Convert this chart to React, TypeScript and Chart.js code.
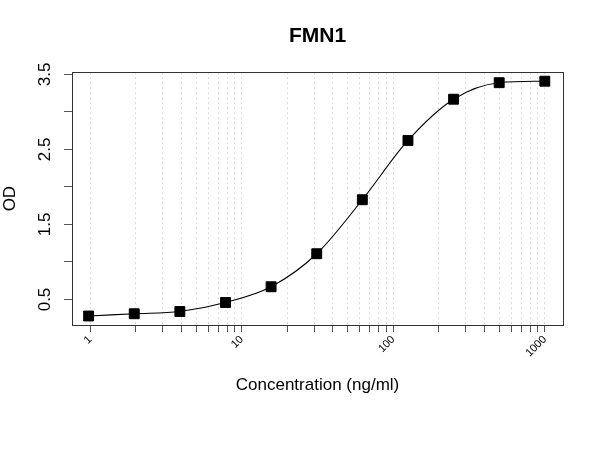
import React, { useEffect, useRef } from "react";
import { Chart, registerables } from "chart.js";

Chart.register(...registerables);

// Data
const concentrations = [0.9765625, 1.953125, 3.90625, 7.8125, 15.625, 31.25, 62.5, 125, 250, 500, 1000];
const odValues = [0.28, 0.31, 0.34, 0.46, 0.67, 1.11, 1.83, 2.62, 3.17, 3.39, 3.41];

// Tick values
const xGridTicks = [
  1, 2, 3, 4, 5, 6, 7, 8, 9,
  10, 20, 30, 40, 50, 60, 70, 80, 90,
  100, 200, 300, 400, 500, 600, 700, 800, 900,
  1000,
];
const xLabelTicks = [1, 10, 100, 1000];
const yTicks = [0.5, 1, 1.5, 2, 2.5, 3, 3.5];
const yLabelTicks = [0.5, 1.5, 2.5, 3.5];

const chartTitle = "FMN1";
const xTitle = "Concentration (ng/ml)";
const yTitle = "OD";

const FONT = "'Liberation Sans', Arial, Helvetica, sans-serif";

const framePlugin = {
  id: "frame",
  beforeDatasetsDraw(chart: any) {
    const { ctx, chartArea } = chart;
    const { left, top, right, bottom } = chartArea;
    ctx.save();
    ctx.strokeStyle = "#333333";
    ctx.lineWidth = 1;
    ctx.setLineDash([]);
    ctx.strokeRect(Math.round(left) + 0.5, Math.round(top) + 0.5, Math.round(right - left), Math.round(bottom - top));
    ctx.restore();
  },
};

export default function App() {
  const canvasRef = useRef<HTMLCanvasElement | null>(null);

  useEffect(() => {
    if (!canvasRef.current) return;
    const points = concentrations.map((c, i) => ({ x: c, y: odValues[i] }));
    const chart = new Chart(canvasRef.current, {
      type: "scatter",
      data: {
        datasets: [
          {
            data: points,
            showLine: true,
            borderColor: "#000000",
            borderWidth: 1.1,
            cubicInterpolationMode: "monotone",
            pointStyle: "rect",
            pointRadius: 7,
            pointHoverRadius: 7,
            pointBackgroundColor: "#000000",
            pointBorderColor: "#000000",
            pointBorderWidth: 1,
          } as any,
        ],
      },
      options: {
        responsive: false,
        animation: false,
        events: [],
        layout: { padding: { left: 0, top: 0, right: 37, bottom: 0 } },
        plugins: {
          legend: { display: false },
          tooltip: { enabled: false },
          title: {
            display: true,
            text: chartTitle,
            fullSize: false,
            color: "#000000",
            font: { family: FONT, size: 21, weight: "bold", lineHeight: 1.2 },
            padding: { top: 24, bottom: 23 },
          },
        },
        scales: {
          x: {
            type: "logarithmic",
            min: Math.pow(10, -0.12),
            max: Math.pow(10, 3.12),
            afterBuildTicks: (scale: any) => {
              scale.ticks = xGridTicks.map((v) => ({ value: v }));
            },
            afterFit: (scale: any) => {
              scale.height = 125;
            },
            ticks: {
              autoSkip: false,
              minRotation: 45,
              maxRotation: 45,
              padding: 1,
              color: "#000000",
              font: { family: FONT, size: 11 },
              callback: (value: any) => (xLabelTicks.includes(Number(value)) ? String(value) : ""),
            },
            grid: {
              display: true,
              drawOnChartArea: true,
              drawTicks: true,
              tickLength: 7,
              color: "#dadada",
              lineWidth: 1,
              tickColor: "#555555",
              tickWidth: 1,
              tickBorderDash: [],
            },
            border: { display: false, dash: [2, 3] },
            title: {
              display: true,
              text: xTitle,
              color: "#000000",
              font: { family: FONT, size: 17, lineHeight: 1.2 },
              padding: { top: 0, bottom: 54 },
            },
          },
          y: {
            type: "linear",
            min: 0.16,
            max: 3.53,
            afterBuildTicks: (scale: any) => {
              scale.ticks = yTicks.map((v) => ({ value: v }));
            },
            afterFit: (scale: any) => {
              scale.width = 72;
            },
            ticks: {
              autoSkip: false,
              minRotation: 90,
              maxRotation: 90,
              crossAlign: "center",
              padding: 7,
              color: "#000000",
              font: { family: FONT, size: 17 },
              callback: (value: any) => (yLabelTicks.includes(Number(value)) ? Number(value).toFixed(1) : ""),
            },
            grid: {
              display: true,
              drawOnChartArea: false,
              drawTicks: true,
              tickLength: 8,
              color: "#555555",
              tickColor: "#555555",
            },
            border: { display: false },
            title: {
              display: true,
              text: yTitle,
              color: "#000000",
              font: { family: FONT, size: 17, lineHeight: 1.2 },
              padding: { top: 0, bottom: 0 },
            },
          },
        },
      },
      plugins: [framePlugin],
    });
    return () => chart.destroy();
  }, []);

  return (
    <div style={{ position: "fixed", left: 0, top: 0, width: 600, height: 450, background: "#ffffff" }}>
      <canvas ref={canvasRef} width={600} height={450} style={{ width: 600, height: 450, display: "block" }} />
    </div>
  );
}
